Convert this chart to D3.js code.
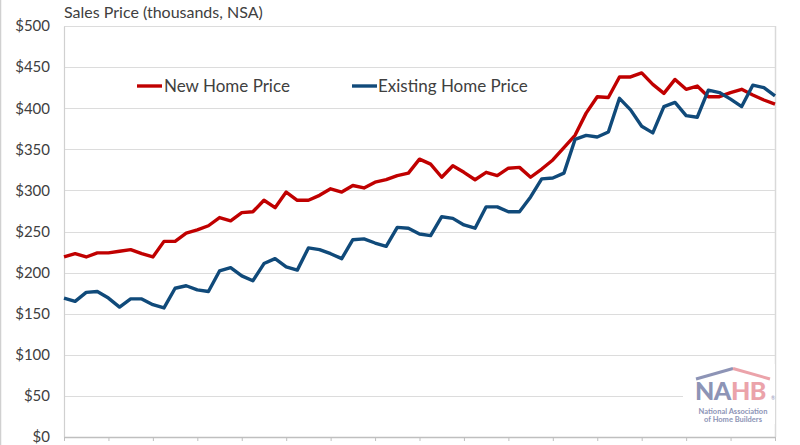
<!DOCTYPE html>
<html>
<head>
<meta charset="utf-8">
<script src="https://cdn.jsdelivr.net/npm/d3@7"></script>
<style>
  html, body { margin: 0; padding: 0; background: #fff; }
  svg { display: block; }
  text { font-family: Lato, "Open Sans", sans-serif; }
</style>
</head>
<body>
<svg id="chart" width="800" height="445"></svg>
<script>
// ---- data ----
const categories = [];
for (let yr = 2008; yr <= 2024; yr++) {
  for (let q = 1; q <= 4; q++) {
    if (yr === 2024 && q > 1) break;
    categories.push(yr + "Q" + q);
  }
}
const newHomePrice = [219, 223, 219, 224, 224, 226, 228, 223, 219, 238,
  238, 248, 252, 257, 267, 263, 273, 274, 288, 279,
  298, 288, 288, 294, 302, 298, 306, 303, 310, 313,
  318, 321, 338, 332, 316, 330, 322, 313, 322, 318,
  327, 328, 316, 326, 337, 352, 367, 394, 414, 413,
  438, 438, 443, 429, 418, 435, 423, 427, 414, 414,
  419, 423, 416, 410, 405];
const existingHomePrice = [169, 165, 176, 177, 169, 158, 168, 168, 161, 157,
  181, 184, 179, 177, 202, 206, 196, 190, 211, 217,
  207, 203, 230, 228, 223, 217, 240, 241, 236, 232,
  255, 254, 247, 245, 268, 266, 258, 254, 280, 280,
  274, 274, 292, 314, 315, 321, 362, 367, 365, 371,
  412, 398, 378, 370, 402, 407, 391, 389, 422, 419,
  411, 402, 428, 425, 415];
const yTicks = [0, 50, 100, 150, 200, 250, 300, 350, 400, 450, 500];
const seriesNames = ["New Home Price", "Existing Home Price"];
const title = "Sales Price (thousands, NSA)";

// ---- layout ----
const svg = d3.select("#chart");
const L = 64, R = 775, T = 26, B = 437;
const x = d3.scalePoint().domain(categories).range([L, R]);
const y = d3.scaleLinear().domain([0, 500]).range([B, T]);
const colors = ["#C00000", "#104A7A"];
const textColor = "#404040";

// left outer border
svg.append("line").attr("x1", 0.5).attr("x2", 0.5).attr("y1", 0).attr("y2", 445)
  .attr("stroke", "#d0d0d0").attr("stroke-width", 1.5);

// gridlines
svg.append("g").selectAll("line").data(yTicks.filter(d => d > 0)).join("line")
  .attr("x1", L).attr("x2", R)
  .attr("y1", d => Math.round(y(d)) + 0.5).attr("y2", d => Math.round(y(d)) + 0.5)
  .attr("stroke", "#dcdcdc").attr("stroke-width", 1);

// right plot border
svg.append("line").attr("x1", R + 0.5).attr("x2", R + 0.5).attr("y1", T).attr("y2", B)
  .attr("stroke", "#d9d9d9").attr("stroke-width", 1.5);

// y axis
const yAxis = svg.append("g").attr("transform", `translate(${L},0)`)
  .call(d3.axisLeft(y).tickValues(yTicks).tickFormat(d => "$" + d).tickSize(0).tickPadding(14));
yAxis.select(".domain").attr("stroke", "#d0d0d0").attr("stroke-width", 1.2);
yAxis.selectAll("text").attr("fill", textColor).style("font-size", "15px")
  .style("font-family", "Lato, 'Open Sans', sans-serif");

// x axis (ticks every 4 quarters, no visible labels)
const xTickVals = categories.filter((d, i) => i % 4 === 0);
const xAxis = svg.append("g").attr("transform", `translate(0,${B})`)
  .call(d3.axisBottom(x).tickValues(xTickVals).tickFormat("").tickSizeInner(4).tickSizeOuter(0));
xAxis.select(".domain").attr("stroke", "#bfbfbf").attr("stroke-width", 1.5);
xAxis.selectAll(".tick line").attr("stroke", "#bfbfbf").attr("stroke-width", 1);

// title
svg.append("text").attr("x", L).attr("y", 18).text(title)
  .attr("fill", textColor).style("font-size", "16px");

// logo (drawn beneath lines)
const logo = svg.append("g");
logo.append("rect").attr("x", 683).attr("y", 364).attr("width", 92).attr("height", 60).attr("fill", "#fff");
logo.append("path").attr("d", "M696,379 L733,368.5").attr("stroke", "#8d94b6").attr("stroke-width", 3).attr("fill", "none");
logo.append("path").attr("d", "M733,368.5 L770,379").attr("stroke", "#eba3aa").attr("stroke-width", 3).attr("fill", "none");
const nahb = logo.append("text").attr("x", 695).attr("y", 400)
  .style("font-size", "25px").style("font-weight", 900).style("letter-spacing", "-0.5px");
nahb.append("tspan").text("NA").attr("fill", "#8d94b6");
nahb.append("tspan").text("HB").attr("fill", "#eba3aa");
logo.append("text").attr("x", 771).attr("y", 400).text("®").attr("fill", "#8d94b6").style("font-size", "5px");
logo.append("text").attr("x", 733).attr("y", 414).attr("text-anchor", "middle").text("National Association")
  .attr("fill", "#8d94b6").style("font-size", "7.5px").style("font-weight", 700);
logo.append("text").attr("x", 733).attr("y", 422).attr("text-anchor", "middle").text("of Home Builders")
  .attr("fill", "#8d94b6").style("font-size", "7.5px").style("font-weight", 700);

// lines
const line = d3.line().x((d, i) => x(categories[i])).y(d => y(d));
[newHomePrice, existingHomePrice].forEach((s, k) => {
  svg.append("path").datum(s).attr("d", line).attr("fill", "none")
    .attr("stroke", colors[k]).attr("stroke-width", 3.4).attr("stroke-linejoin", "round");
});

// legend
const legendPos = [{lx: 137, tx: 164}, {lx: 352, tx: 378}];
seriesNames.forEach((n, k) => {
  const p = legendPos[k];
  svg.append("line").attr("x1", p.lx).attr("x2", p.lx + 25).attr("y1", 86).attr("y2", 86)
    .attr("stroke", colors[k]).attr("stroke-width", 3.4);
  svg.append("text").attr("x", p.tx).attr("y", 92).text(n)
    .attr("fill", textColor).style("font-size", "17px");
});
</script>
</body>
</html>
